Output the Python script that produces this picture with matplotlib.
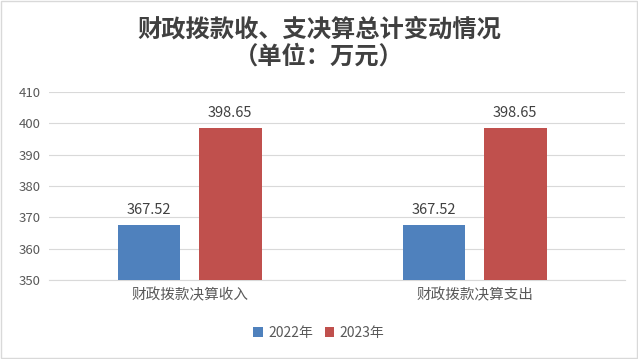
import numpy as np
import matplotlib.pyplot as plt
from matplotlib.patches import Rectangle

plt.rcParams['font.family'] = ['Noto Sans CJK SC', 'DejaVu Sans']

categories = ['财政拨款决算收入', '财政拨款决算支出']
years = ['2022年', '2023年']
vals_2022 = [367.52, 367.52]
vals_2023 = [398.65, 398.65]
colors = ['#4F81BD', '#C0504D']

fig = plt.figure(figsize=(6.38, 3.59), dpi=100)
ax = fig.add_axes([49/638, 1-280/359, 576/638, 188/359])

x = np.arange(len(categories))
w = 0.22
b1 = ax.bar(x - 0.145, vals_2022, w, color=colors[0], label=years[0], zorder=3)
b2 = ax.bar(x + 0.14, vals_2023, w, color=colors[1], label=years[1], zorder=3)
for bars in (b1, b2):
    for r in bars:
        ax.text(r.get_x() + r.get_width()/2, r.get_height() + 2.5, '%.2f' % r.get_height(),
                ha='center', va='bottom', fontsize=10.5, color='#404040')

ax.set_xlim(-0.496, 1.525)
ax.set_ylim(350, 410)
ax.set_yticks(np.arange(350, 411, 10))
ax.set_xticks(x)
ax.set_xticklabels(categories, fontsize=10.5)
ax.yaxis.grid(True, color='#d9d9d9', linewidth=0.8, zorder=0)
for s in ['top', 'right', 'left']:
    ax.spines[s].set_visible(False)
ax.spines['bottom'].set_color('#d9d9d9')
ax.tick_params(length=0, colors='#595959', pad=6)
ax.tick_params(axis='y', labelsize=9.5)

fig.text(0.5, 1-30/359, '财政拨款收、支决算总计变动情况', ha='center', va='center',
         fontsize=17.5, fontweight='bold', color='#404040')
fig.text(0.5, 1-57/359, '（单位：万元）', ha='center', va='center',
         fontsize=17.5, fontweight='bold', color='#404040')

fig.legend(handles=[b1, b2], loc='center', bbox_to_anchor=(0.5, 1-333/359), ncol=2,
           frameon=False, fontsize=10, handlelength=0.7, handleheight=0.7,
           handletextpad=0.4, columnspacing=0.8, labelcolor='#595959')

fig.patches.append(Rectangle((0.002, 0.003), 0.996, 0.994, transform=fig.transFigure,
                             fill=False, edgecolor='#d9d9d9', linewidth=1))

fig.savefig('out.png', dpi=100)
